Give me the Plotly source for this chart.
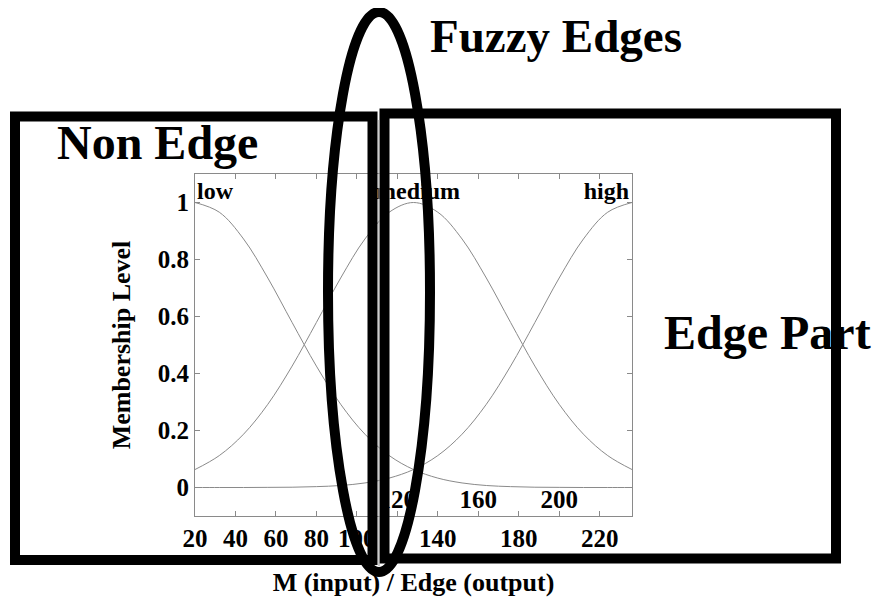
import plotly.graph_objects as go

# ---- data ----
x_vals = [20, 32, 44, 56, 68, 80, 92, 104, 116, 128, 140, 152, 164, 176, 188, 200, 212, 224, 236]
low = [1.0, 0.966, 0.872, 0.735, 0.579, 0.426, 0.292, 0.187, 0.112, 0.063, 0.033, 0.016,
       0.007, 0.003, 0.001, 0.0005, 0.0, 0.0, 0.0]
medium = [0.063, 0.112, 0.187, 0.292, 0.426, 0.579, 0.735, 0.872, 0.966, 1.0, 0.966, 0.872,
          0.735, 0.579, 0.426, 0.292, 0.187, 0.112, 0.063]
high = [0.0, 0.0, 0.0, 0.0005, 0.001, 0.003, 0.007, 0.016, 0.033, 0.063, 0.112, 0.187,
        0.292, 0.426, 0.579, 0.735, 0.872, 0.966, 1.0]
series_names = ["low", "medium", "high"]

x_tick_vals = [20, 40, 60, 80, 100, 120, 140, 160, 180, 200, 220]
x_tick_text = ["20", "40", "60", "80", "100", "", "140", "", "180", "", "220"]
x_inner_tick_vals = [120, 160, 200]
x_inner_tick_text = ["120", "160", "200"]
y_tick_vals = [0, 0.2, 0.4, 0.6, 0.8, 1]
y_tick_text = ["0", "0.2", "0.4", "0.6", "0.8", "1"]

x_title = "M (input) / Edge (output)"
y_title = "Membership Level"
callouts = ["Fuzzy Edges", "Non Edge", "Edge Part"]

# ---- geometry (page pixels of the reference; the page body adds an 8 px offset) ----
OFF = 8
W_FIG, H_FIG = 880, 601
L, T, R, B = 195 - OFF, 174 - OFF, 632 - OFF, 516 - OFF
PW, PH = R - L, B - T
X_RANGE = [20, 236]
Y_RANGE = [-0.1, 1.1]


def pxx(p):
    return (p - OFF - L) / PW


def pxy(p):
    return (B - (p - OFF)) / PH


def dx(p):
    return X_RANGE[0] + (p - OFF - L) / PW * (X_RANGE[1] - X_RANGE[0])


def dy(p):
    return Y_RANGE[0] + (B - (p - OFF)) / PH * (Y_RANGE[1] - Y_RANGE[0])


SERIF = "Liberation Serif, Times New Roman, serif"
fig = go.Figure()

for name, ys in zip(series_names, [low, medium, high]):
    fig.add_trace(go.Scatter(x=x_vals, y=ys, mode="lines", name=name,
                             line=dict(color="#8a8a8a", width=1, shape="spline"),
                             hoverinfo="skip", showlegend=False))

# curve labels (drawn in plot layer, under the overlay shapes)
fig.add_trace(go.Scatter(
    x=[dx(197), dx(418), dx(629)], y=[dy(193)] * 3,
    text=series_names, mode="text",
    textposition=["middle right", "middle center", "middle left"],
    textfont=dict(family=SERIF, size=24, color="black", weight="bold"),
    showlegend=False, hoverinfo="skip", cliponaxis=False))

# second row of x tick labels, drawn inside the plot
fig.add_trace(go.Scatter(
    x=x_inner_tick_vals, y=[dy(502)] * len(x_inner_tick_vals),
    text=x_inner_tick_text, mode="text", textposition="middle center",
    textfont=dict(family=SERIF, size=25, color="black", weight="bold"),
    showlegend=False, hoverinfo="skip", cliponaxis=False))

axis_common = dict(showgrid=False, zeroline=False, showline=True, linecolor="#8a8a8a",
                   linewidth=1, mirror="ticks", ticks="inside", ticklen=5,
                   tickcolor="#8a8a8a", tickwidth=1,
                   tickfont=dict(family=SERIF, size=25, color="black", weight="bold"))

line_w = 10
shapes = [
    dict(type="rect", xref="paper", yref="paper", x0=pxx(15), x1=pxx(372.5),
         y0=pxy(560), y1=pxy(116.5), line=dict(color="black", width=line_w), layer="above"),
    dict(type="rect", xref="paper", yref="paper", x0=pxx(384.5), x1=pxx(836),
         y0=pxy(558.5), y1=pxy(113.5), line=dict(color="black", width=line_w), layer="above"),
    dict(type="circle", xref="paper", yref="paper", x0=pxx(328), x1=pxx(430),
         y0=pxy(572), y1=pxy(12), line=dict(color="black", width=line_w), layer="above"),
    dict(type="line", xref="paper", yref="paper", x0=pxx(379), x1=pxx(379),
         y0=pxy(566), y1=pxy(120), line=dict(color="#9a9a9a", width=1), layer="above"),
]

annotations = [
    dict(text=callouts[0], xref="paper", yref="paper", x=pxx(556), y=pxy(OFF),
         xanchor="center", yanchor="top", showarrow=False,
         font=dict(family=SERIF, size=47, color="black", weight="bold")),
    dict(text=callouts[1], xref="paper", yref="paper", x=pxx(157), y=pxy(142),
         xanchor="center", yanchor="middle", showarrow=False,
         font=dict(family=SERIF, size=48, color="black", weight="bold")),
    dict(text=callouts[2], xref="paper", yref="paper", x=pxx(767), y=pxy(332),
         xanchor="center", yanchor="middle", showarrow=False,
         font=dict(family=SERIF, size=48, color="black", weight="bold")),
]

fig.update_layout(
    width=W_FIG, height=H_FIG,
    margin=dict(l=L, r=W_FIG - R, t=T, b=H_FIG - B, autoexpand=False),
    paper_bgcolor="white", plot_bgcolor="white",
    showlegend=False,
    xaxis=dict(range=X_RANGE, tickmode="array", tickvals=x_tick_vals, ticktext=x_tick_text,
               title=dict(text=x_title, standoff=21,
                          font=dict(family=SERIF, size=26, color="black", weight="bold")),
               **axis_common),
    yaxis=dict(range=Y_RANGE, tickmode="array", tickvals=y_tick_vals, ticktext=y_tick_text,
               title=dict(text=y_title, standoff=19,
                          font=dict(family=SERIF, size=26, color="black", weight="bold")),
               **axis_common),
    shapes=shapes,
    annotations=annotations,
)

fig.write_html("out.html")
